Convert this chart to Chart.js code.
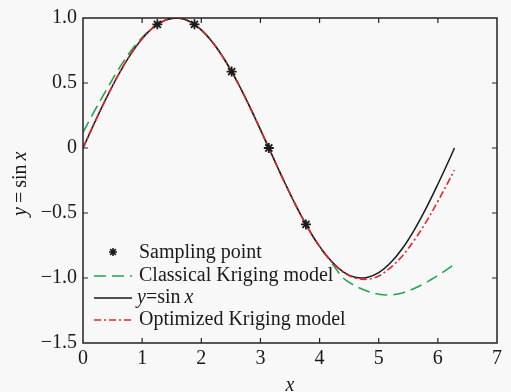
<!DOCTYPE html>
<html><head><meta charset="utf-8">
<script src="https://cdn.jsdelivr.net/npm/chart.js@4/dist/chart.umd.min.js"></script>
<style>html,body{margin:0;padding:0;background:#f8f8f8;overflow:hidden}#wrap{width:511px;height:392px;position:relative}</style>
</head><body><div id="wrap"><canvas id="c" width="511" height="392"></canvas></div>
<script>
const xGrid = [0,0.2,0.4,0.6,0.8,1.0,1.2,1.4,1.6,1.8,2.0,2.2,2.4,2.6,2.8,3.0,3.2,3.4,3.6,3.8,4.0,4.2,4.4,4.6,4.8,5.0,5.2,5.4,5.6,5.8,6.0,6.2,6.28];
const sinValues = [0,0.199,0.389,0.565,0.717,0.841,0.932,0.985,1.0,0.974,0.909,0.808,0.675,0.516,0.335,0.141,-0.058,-0.256,-0.443,-0.612,-0.757,-0.872,-0.952,-0.994,-0.996,-0.959,-0.883,-0.773,-0.631,-0.465,-0.279,-0.083,0.0];
const classicalValues = [0.12,0.29,0.45,0.605,0.74,0.85,0.935,0.985,1.0,0.974,0.909,0.808,0.675,0.516,0.335,0.141,-0.058,-0.256,-0.443,-0.612,-0.76,-0.88,-1.0,-1.06,-1.10,-1.125,-1.13,-1.115,-1.08,-1.035,-0.98,-0.92,-0.89];
const optimizedValues = [0,0.199,0.389,0.565,0.717,0.841,0.932,0.985,1.0,0.974,0.909,0.808,0.675,0.516,0.335,0.141,-0.058,-0.256,-0.443,-0.612,-0.757,-0.872,-0.955,-1.0,-1.01,-0.985,-0.92,-0.83,-0.71,-0.57,-0.41,-0.24,-0.17];
const sampleX = [1.257,1.885,2.513,3.142,3.770];
const sampleY = [0.951,0.951,0.588,0,-0.588];
const xTickValues = [0,1,2,3,4,5,6,7];
const yTickValues = [-1.5,-1.0,-0.5,0,0.5,1.0];
const legendLabels = ['Sampling point','Classical Kriging model','y=sin x','Optimized Kriging model'];

const GREEN = '#1fa64f', RED = '#e8232a', BLACK = '#1a1a1a', AXIS = '#222';
const FONT = '"Liberation Serif","Times New Roman",serif';
const toPts = (xs, ys) => xs.map((x, i) => ({x, y: ys[i]}));

const decor = {
  id: 'decor',
  afterDraw(chart) {
    const ctx = chart.ctx, a = chart.chartArea;
    const xs = chart.scales.x, ys = chart.scales.y;
    ctx.save();
    ctx.strokeStyle = AXIS; ctx.lineWidth = 1.5;
    ctx.strokeRect(a.left, a.top, a.right - a.left, a.bottom - a.top);
    ctx.lineWidth = 1.2;
    const tl = 5;
    xTickValues.forEach(v => {
      if (v === 0 || v === 7) return;
      const p = xs.getPixelForValue(v);
      ctx.beginPath();
      ctx.moveTo(p, a.bottom); ctx.lineTo(p, a.bottom - tl);
      ctx.moveTo(p, a.top); ctx.lineTo(p, a.top + tl);
      ctx.stroke();
    });
    yTickValues.forEach(v => {
      if (v === -1.5 || v === 1.0) return;
      const p = ys.getPixelForValue(v);
      ctx.beginPath();
      ctx.moveTo(a.left, p); ctx.lineTo(a.left + tl, p);
      ctx.moveTo(a.right, p); ctx.lineTo(a.right - tl, p);
      ctx.stroke();
    });
    // legend
    const rows = [253, 276, 298, 320];
    const lx0 = 94, lx1 = 132, tx = 139;
    ctx.fillStyle = BLACK; ctx.strokeStyle = BLACK;
    drawStar(ctx, 113, rows[0] - 1, 4);
    ctx.lineWidth = 1.6;
    ctx.strokeStyle = GREEN; ctx.setLineDash([12, 6]);
    ctx.beginPath(); ctx.moveTo(lx0, rows[1]); ctx.lineTo(lx1, rows[1]); ctx.stroke();
    ctx.strokeStyle = BLACK; ctx.setLineDash([]);
    ctx.beginPath(); ctx.moveTo(lx0, rows[2]); ctx.lineTo(lx1, rows[2]); ctx.stroke();
    ctx.strokeStyle = RED; ctx.setLineDash([7, 3, 2, 3]);
    ctx.beginPath(); ctx.moveTo(lx0, rows[3]); ctx.lineTo(lx1, rows[3]); ctx.stroke();
    ctx.setLineDash([]);
    ctx.fillStyle = BLACK;
    ctx.textBaseline = 'middle'; ctx.textAlign = 'left';
    ctx.font = '20px ' + FONT;
    ctx.fillText(legendLabels[0], tx, rows[0]);
    ctx.fillText(legendLabels[1], tx, rows[1]);
    drawSinLabel(ctx, tx - 2, rows[2], false);
    ctx.font = '20px ' + FONT;
    ctx.fillText(legendLabels[3], tx, rows[3]);
    // y axis title
    ctx.save();
    ctx.translate(21, 216);
    ctx.rotate(-Math.PI / 2);
    drawSinLabel(ctx, 0, 0, true);
    ctx.restore();
    // x axis title
    ctx.font = 'italic 20px ' + FONT;
    ctx.textAlign = 'center'; ctx.textBaseline = 'alphabetic';
    ctx.fillText('x', 290, 391);
    ctx.restore();
  }
};
function drawStar(ctx, x, y, r) {
  ctx.save(); ctx.lineWidth = 1.6; ctx.beginPath();
  for (let k = 0; k < 4; k++) {
    const t = k * Math.PI / 4;
    ctx.moveTo(x + r * Math.cos(t), y + r * Math.sin(t));
    ctx.lineTo(x - r * Math.cos(t), y - r * Math.sin(t));
  }
  ctx.stroke(); ctx.restore();
}
function drawSinLabel(ctx, x, y, spaced) {
  ctx.textBaseline = 'middle'; ctx.textAlign = 'left';
  const parts = [['italic 20px ' + FONT, 'y'], ['20px ' + FONT, spaced ? '\u2009=\u2009' : '='], ['20px ' + FONT, 'sin\u2009'], ['italic 20px ' + FONT, 'x']];
  let cx = x;
  parts.forEach(([f, t]) => { ctx.font = f; ctx.fillText(t, cx, y); cx += ctx.measureText(t).width; });
}

new Chart(document.getElementById('c'), {
  type: 'line',
  data: {
    datasets: [
      {label: 'Samples', order: 0, data: toPts(sampleX, sampleY), showLine: false, pointStyle: 'star', pointRadius: 5, borderColor: BLACK, backgroundColor: BLACK, pointBorderWidth: 1.8},
      {label: 'Optimized', order: 1, data: toPts(xGrid, optimizedValues), borderColor: RED, borderWidth: 1.6, borderDash: [7, 3, 2, 3], pointRadius: 0, tension: 0.35, fill: false},
      {label: 'sin', order: 2, data: toPts(xGrid, sinValues), borderColor: BLACK, borderWidth: 1.5, pointRadius: 0, tension: 0.35, fill: false},
      {label: 'Classical', order: 3, data: toPts(xGrid, classicalValues), borderColor: GREEN, borderWidth: 1.6, borderDash: [12, 6], pointRadius: 0, tension: 0.35, fill: false}
    ]
  },
  options: {
    responsive: false, animation: false, devicePixelRatio: 1,
    layout: {padding: {top: 15, right: 14, left: 0, bottom: 0}},
    plugins: {legend: {display: false}, tooltip: {enabled: false}},
    scales: {
      x: {type: 'linear', min: 0, max: 7,
        afterFit(s) { s.height = 49; },
        afterBuildTicks(s) { s.ticks = xTickValues.map(v => ({value: v})); },
        grid: {display: true, drawOnChartArea: false, drawTicks: false, color: 'rgba(0,0,0,0)'},
        border: {display: false},
        ticks: {padding: 4, color: BLACK, font: {family: FONT, size: 20}, maxRotation: 0, callback: v => String(v)}},
      y: {type: 'linear', min: -1.5, max: 1.0,
        afterFit(s) { s.width = 83; },
        afterBuildTicks(s) { s.ticks = yTickValues.map(v => ({value: v})); },
        grid: {display: true, drawOnChartArea: false, drawTicks: false, color: 'rgba(0,0,0,0)'},
        border: {display: false},
        ticks: {padding: 6, color: BLACK, font: {family: FONT, size: 20}, callback: v => v === 0 ? '0' : v.toFixed(1).replace('-', '\u2212')}}
    }
  },
  plugins: [decor]
});
</script></body></html>
